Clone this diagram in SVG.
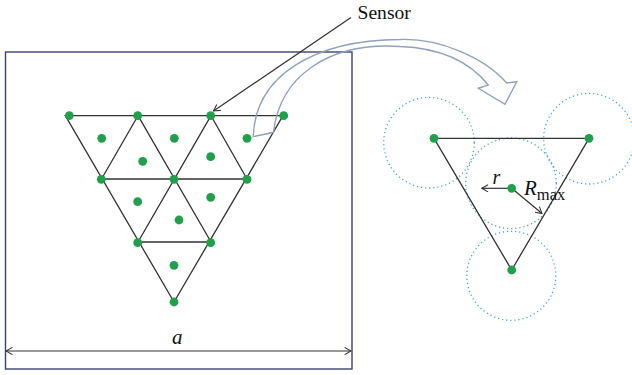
<svg xmlns="http://www.w3.org/2000/svg" width="632" height="375" viewBox="0 0 632 375">
<style>
.edge{stroke:#333;stroke-width:1.3;fill:none}
.dot{fill:#21a04b}
.cov{fill:none;stroke:#3fa6dc;stroke-width:1.3;stroke-dasharray:1.2 2.9}
.lbl{font-family:"Liberation Serif","Times New Roman",serif;fill:#111}
.ital{font-style:italic}
</style>
<defs>
<marker id="open" viewBox="0 0 10 10" refX="9" refY="5" markerWidth="8" markerHeight="8" markerUnits="userSpaceOnUse" orient="auto-start-reverse">
<path d="M1,0.5 L9,5 L1,9.5" fill="none" stroke="#333" stroke-width="1.3"/>
</marker>
</defs>
<rect x="0" y="0" width="632" height="375" fill="#fff"/>
<g id="field">
<rect x="5.5" y="52" width="346.5" height="317" fill="none" stroke="#3a4275" stroke-width="1.4"/>
</g>
<g id="mesh">
<polygon points="65.3,115.7 283,115.7 174,302" fill="#f3f5f3" class="edge"/>
<path class="edge" d="M101.5,179 H247 M138,242 H211 M138,115.7 L211,242 M211,115.7 L247,179 M211,115.7 L138,242 M138,115.7 L101.5,179"/>
</g>
<g id="sensors">
<circle class="dot" cx="69.3" cy="115.7" r="4.4"/>
<circle class="dot" cx="137.7" cy="115.7" r="4.4"/>
<circle class="dot" cx="210.7" cy="115.7" r="4.4"/>
<circle class="dot" cx="283.7" cy="115.7" r="4.4"/>
<circle class="dot" cx="101.3" cy="179.3" r="4.4"/>
<circle class="dot" cx="174" cy="179.3" r="4.4"/>
<circle class="dot" cx="247" cy="179.3" r="4.4"/>
<circle class="dot" cx="137.7" cy="242.7" r="4.4"/>
<circle class="dot" cx="210.7" cy="242.7" r="4.4"/>
<circle class="dot" cx="174" cy="302" r="4.4"/>
<circle class="dot" cx="101.7" cy="138.3" r="4.4"/>
<circle class="dot" cx="174.3" cy="138.3" r="4.4"/>
<circle class="dot" cx="247" cy="138.3" r="4.4"/>
<circle class="dot" cx="142.7" cy="161.3" r="4.4"/>
<circle class="dot" cx="210.7" cy="156.7" r="4.4"/>
<circle class="dot" cx="137.7" cy="201.7" r="4.4"/>
<circle class="dot" cx="210.7" cy="197.3" r="4.4"/>
<circle class="dot" cx="179" cy="220" r="4.4"/>
<circle class="dot" cx="174" cy="265.3" r="4.4"/>
</g>
<g id="sensor-label">
<text class="lbl" x="357.5" y="19.3" font-size="19.6">Sensor</text>
</g>
<g id="connectors">
<line x1="351" y1="17.5" x2="213.5" y2="111" stroke="#333" stroke-width="1.2" marker-end="url(#open)"/>
<path d="M253.3,136.7 C255,75 315,40 400,39.5 C440,38 485,58 506.7,83 L516.7,81.7 L505,104.3 L478.3,88.3 L488.3,85 C470,62 440,48 400,46.5 C330,42 280,75 273.5,132.3 Z" fill="none" stroke="#8ea1bf" stroke-width="1.4" stroke-linejoin="miter"/>
<line x1="6" y1="351" x2="351" y2="351" stroke="#333" stroke-width="1.2" marker-start="url(#open)" marker-end="url(#open)"/>
<line x1="511.7" y1="188.3" x2="481.7" y2="188.3" stroke="#333" stroke-width="1.2" marker-end="url(#open)"/>
<line x1="511.7" y1="188.3" x2="542" y2="213.5" stroke="#333" stroke-width="1.2" marker-end="url(#open)"/>
</g>
<g id="a-label">
<text class="lbl ital" x="172" y="343.5" font-size="21">a</text>
</g>
<g id="coverage">
<circle class="cov" cx="429" cy="142.7" r="45.3"/>
<circle class="cov" cx="589" cy="138.7" r="45.3"/>
<circle class="cov" cx="511" cy="183.3" r="45.3"/>
<circle class="cov" cx="511.3" cy="275.8" r="44.5"/>
</g>
<g id="cell">
<polygon points="434,138.3 589,138.3 511.7,270" class="edge"/>
<circle class="dot" cx="434" cy="138.3" r="4.4"/>
<circle class="dot" cx="589" cy="138.3" r="4.4"/>
<circle class="dot" cx="511.7" cy="270" r="4.4"/>
<circle class="dot" cx="511.7" cy="188.3" r="4.4"/>
</g>
<g id="labels">
<text class="lbl ital" x="492.5" y="183.5" font-size="20">r</text>
<text class="lbl" x="524" y="194.5" font-size="21"><tspan class="ital">R</tspan><tspan font-size="16.5" dy="5.5">max</tspan></text>
</g>
</svg>
